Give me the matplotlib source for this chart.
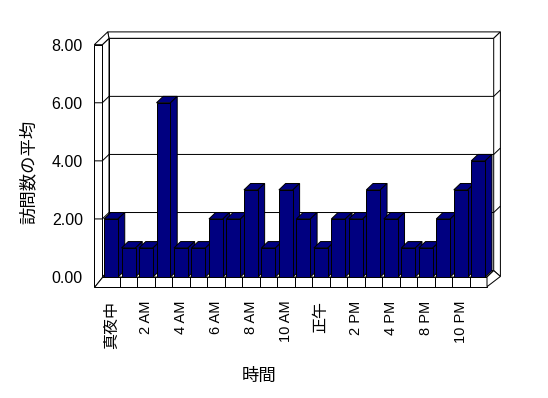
import matplotlib
matplotlib.use("Agg")
import matplotlib.pyplot as plt
from matplotlib.patches import Polygon

plt.rcParams['font.family'] = ['Liberation Sans', 'Noto Sans CJK JP']

# Average visits per hour (hours with no data are not listed)
hours = ['真夜中', '1 AM', '2 AM', '3 AM', '4 AM', '5 AM', '6 AM', '7 AM',
         '8 AM', '9 AM', '10 AM', '11 AM', '正午', '1 PM', '2 PM', '3 PM',
         '4 PM', '7 PM', '8 PM', '9 PM', '10 PM', '11 PM']
visits = [2, 1, 1, 6, 1, 1, 2, 2, 3, 1, 3, 2, 1, 2, 2, 3, 2, 1, 1, 2, 3, 4]
yticks = [0, 2, 4, 6, 8]

navy = '#000080'
lw = 0.72

W, H, DPI = 548, 398, 100
fig = plt.figure(figsize=(W / DPI, H / DPI), dpi=DPI, facecolor='white')

# front plane of the 3d box, in pixels
left, right, bottom, top = 102.3, 487.0, 277.0, 44.7
ax = fig.add_axes([left / W, 1 - bottom / H, (right - left) / W, (bottom - top) / H])
n = len(visits)
ymax = yticks[-1]
x0, x1 = -0.5, n - 0.5
ax.set_xlim(x0, x1)
ax.set_ylim(0, ymax)
ax.patch.set_visible(False)
for s in ax.spines.values():
    s.set_visible(False)

ux = (right - left) / n
uy = (bottom - top) / ymax
dx, dy = 6.7 / ux, 6.4 / uy      # depth of the bars / walls
wall = 8.0 / ux                   # left wall thickness
floor = 9.7 / uy                  # floor thickness


def poly(pts, fc='white', z=1):
    ax.add_patch(Polygon(pts, closed=True, fc=fc, ec='black', lw=lw,
                         clip_on=False, zorder=z, joinstyle='miter'))


def line(xs, ys, z=2):
    ax.plot(xs, ys, color='black', lw=lw, clip_on=False, zorder=z,
            solid_capstyle='butt')


# back wall
poly([(x0 + dx, dy), (x1 + dx, dy), (x1 + dx, ymax + dy), (x0 + dx, ymax + dy)])
poly([(x0 + dx, ymax + dy), (x1 + dx, ymax + dy), (x1 + 2 * dx, ymax + 2 * dy),
      (x0 - wall + 2 * dx, ymax + 2 * dy)])
poly([(x1 + dx, dy), (x1 + dx, ymax + dy), (x1 + 2 * dx, ymax + 2 * dy),
      (x1 + 2 * dx, -floor + 1.6 * dy)])
# left wall
poly([(x0, 0), (x0, ymax), (x0 + dx, ymax + dy), (x0 + dx, dy)])
poly([(x0 - wall, ymax), (x0, ymax), (x0 + dx, ymax + dy),
      (x0 - wall + 2 * dx, ymax + 2 * dy)])
poly([(x0 - wall, -floor), (x0 - wall, ymax), (x0, ymax), (x0, 0)])
# floor
poly([(x0, 0), (x1, 0), (x1 + dx, dy), (x0 + dx, dy)])
poly([(x0 - wall, -floor), (x1, -floor), (x1, 0), (x0, 0)])
poly([(x1, -floor), (x1 + 2 * dx, -floor + 1.6 * dy), (x1 + dx, dy), (x1, 0)])

# gridlines across the left wall, back wall and its edge
for v in yticks[1:-1]:
    line([x0 - wall, x0, x0 + dx, x1 + dx, x1 + 2 * dx],
         [v, v, v + dy, v + dy, v + 2 * dy])

# category ticks on the floor front
for k in range(1, n):
    line([x0 + k, x0 + k], [0, -floor])

# bars: front faces from ax.bar, top and side faces added
bars = ax.bar(range(n), visits, width=0.8, color=navy, edgecolor='black', lw=lw)
for i, b in enumerate(bars):
    bx, bw, h = b.get_x(), b.get_width(), b.get_height()
    z = 10 + 2 * i
    b.set_zorder(z + 1)
    b.set_clip_on(False)
    poly([(bx, h), (bx + bw, h), (bx + bw + dx, h + dy), (bx + dx, h + dy)], fc=navy, z=z)
    poly([(bx + bw, 0), (bx + bw + dx, dy), (bx + bw + dx, h + dy), (bx + bw, h)], fc=navy, z=z)

ax.set_yticks(yticks)
ax.set_yticklabels([f'{v:.2f}' for v in yticks], fontsize=11.5)
ax.set_xticks(range(0, n, 2))
ax.set_xticklabels(hours[::2], rotation=90, ha='center', va='top')
for t in ax.get_xticklabels():
    t.set_fontsize(11.5 if t.get_text() in ('真夜中', '正午') else 10.5)
ax.tick_params(axis='y', length=0, pad=14)
ax.tick_params(axis='x', length=0, pad=17)

fig.text(28 / W, 1 - 172 / H, '訪問数の平均', rotation=90, ha='center', va='center',
         fontsize=12.5)
fig.text(259 / W, 1 - 376 / H, '時間', ha='center', va='center', fontsize=12.5)

fig.savefig('out.png', dpi=DPI, facecolor='white')
